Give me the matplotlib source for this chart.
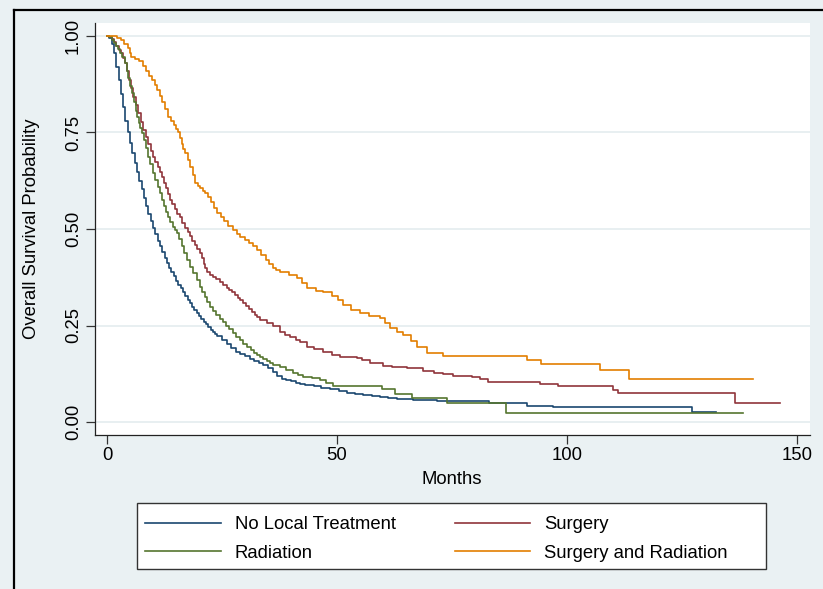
import matplotlib
matplotlib.use("Agg")
import matplotlib.pyplot as plt
from matplotlib.patches import Rectangle
from matplotlib.lines import Line2D

plt.rcParams['font.family'] = ['Liberation Sans', 'DejaVu Sans']

# ---------------- data (Kaplan-Meier step points) ----------------
labels = ["No Local Treatment", "Surgery", "Radiation", "Surgery and Radiation"]
colors = ["#1a476f", "#90353b", "#55752f", "#e37e00"]

t_none = [0, 0.5, 1.0, 1.5, 2.0, 2.5, 3.0, 3.5, 4.0, 4.5, 5.0, 5.5, 6.0, 6.5, 7.0, 7.5, 8.0,
          8.5, 9.0, 9.5, 10.0, 10.5, 11.0, 11.5, 12.0, 12.5, 13.0, 13.5, 14.0, 14.5, 15.0,
          15.5, 16.0, 16.5, 17.0, 17.5, 18.0, 18.5, 19.0, 19.5, 20.0, 20.5, 21.0, 21.5, 22.0,
          22.5, 23.0, 23.5, 24.0, 25.0, 26.0, 27.0, 28.0, 29.0, 30.0, 31.0, 32.0, 33.0, 34.0,
          35.0, 36.0, 37.0, 38.0, 39.0, 40.0, 41.0, 42.0, 43.0, 44.0, 45.0, 46.5, 48.5, 50.4,
          52.2, 54.0, 55.7, 57.5, 59.3, 61.0, 63.0, 66.5, 69.0, 71.7, 83.0, 91.3, 97.0,
          127.2, 132.4]
s_none = [1.0, 0.995, 0.98, 0.955, 0.92, 0.885, 0.85, 0.815, 0.78, 0.75, 0.723, 0.697, 0.672,
          0.648, 0.625, 0.603, 0.581, 0.56, 0.54, 0.521, 0.503, 0.486, 0.47, 0.455, 0.44,
          0.426, 0.412, 0.399, 0.388, 0.377, 0.366, 0.356, 0.347, 0.337, 0.327, 0.317, 0.308,
          0.299, 0.291, 0.283, 0.275, 0.267, 0.26, 0.253, 0.245, 0.238, 0.232, 0.227, 0.222,
          0.213, 0.203, 0.193, 0.182, 0.175, 0.17, 0.164, 0.159, 0.154, 0.147, 0.14, 0.13,
          0.118, 0.112, 0.108, 0.105, 0.102, 0.099, 0.097, 0.095, 0.093, 0.089, 0.085, 0.08,
          0.075, 0.072, 0.07, 0.067, 0.065, 0.062, 0.06, 0.057, 0.056, 0.054, 0.049, 0.042,
          0.038, 0.027, 0.027]

t_surg = [0, 0.5, 1.0, 1.5, 2.0, 2.5, 3.0, 3.5, 3.9, 4.3, 4.8, 5.2, 5.7, 6.2, 6.8, 7.3, 7.9,
          8.4, 9.0, 9.5, 10.0, 10.5, 11.0, 11.5, 11.9, 12.4, 12.8, 13.3, 13.7, 14.2, 14.7,
          15.3, 15.8, 16.4, 17.0, 17.5, 18.0, 18.5, 19.1, 19.6, 20.2, 20.6, 21.0, 21.3, 21.7,
          22.4, 23.1, 23.8, 24.5, 25.2, 26.0, 26.6, 27.2, 27.8, 28.4, 29.0, 29.6, 30.2, 30.9,
          31.5, 32.1, 32.7, 33.3, 34.7, 36.1, 37.6, 38.7, 39.8, 41.0, 42.0, 43.5, 45.0, 47.0,
          49.0, 50.7, 54.3, 55.5, 57.2, 60.0, 62.0, 65.2, 68.7, 71.0, 73.0, 75.2, 79.3, 81.0,
          82.8, 94.1, 98.1, 110.0, 111.1, 136.5, 146.3]
s_surg = [1.0, 0.998, 0.993, 0.985, 0.975, 0.965, 0.955, 0.942, 0.93, 0.91, 0.885, 0.865,
          0.842, 0.822, 0.80, 0.778, 0.756, 0.738, 0.72, 0.703, 0.687, 0.673, 0.66, 0.647,
          0.635, 0.62, 0.605, 0.59, 0.575, 0.565, 0.553, 0.54, 0.53, 0.516, 0.503, 0.492,
          0.481, 0.47, 0.459, 0.448, 0.438, 0.424, 0.41, 0.40, 0.389, 0.382, 0.376, 0.37,
          0.362, 0.355, 0.347, 0.341, 0.336, 0.33, 0.322, 0.315, 0.308, 0.30, 0.292, 0.285,
          0.278, 0.271, 0.264, 0.256, 0.249, 0.233, 0.226, 0.22, 0.213, 0.207, 0.195, 0.19,
          0.181, 0.174, 0.168, 0.166, 0.16, 0.153, 0.145, 0.142, 0.14, 0.132, 0.128, 0.125,
          0.12, 0.116, 0.111, 0.103, 0.098, 0.092, 0.083, 0.074, 0.05, 0.05]

t_rad = [0, 0.5, 1.0, 1.5, 2.0, 2.4, 2.8, 3.3, 3.9, 4.3, 4.6, 5.0, 5.4, 5.8, 6.2, 6.5, 6.9,
         7.2, 7.6, 8.0, 8.4, 8.9, 9.4, 10.0, 10.5, 11.0, 11.5, 11.9, 12.4, 12.8, 13.3, 13.8,
         14.3, 14.8, 15.2, 15.7, 16.3, 16.8, 17.4, 18.1, 18.8, 19.5, 20.2, 20.7, 21.3, 21.8,
         22.4, 23.1, 23.8, 24.5, 25.2, 25.9, 26.6, 27.4, 28.1, 28.9, 29.6, 30.4, 31.2, 32.0,
         32.6, 33.3, 34.0, 34.7, 35.4, 36.1, 37.6, 39.0, 40.4, 41.5, 42.6, 44.5, 46.3, 47.7,
         49.1, 59.8, 62.6, 66.3, 74.0, 86.7, 138.3]
s_rad = [1.0, 0.997, 0.99, 0.983, 0.975, 0.966, 0.956, 0.945, 0.93, 0.91, 0.89, 0.87, 0.852,
         0.83, 0.806, 0.79, 0.775, 0.762, 0.749, 0.73, 0.71, 0.687, 0.668, 0.645, 0.627,
         0.61, 0.592, 0.575, 0.56, 0.545, 0.531, 0.518, 0.505, 0.497, 0.49, 0.473, 0.455,
         0.438, 0.42, 0.402, 0.385, 0.367, 0.35, 0.337, 0.325, 0.311, 0.298, 0.288, 0.278,
         0.268, 0.259, 0.249, 0.24, 0.23, 0.221, 0.212, 0.203, 0.195, 0.187, 0.18, 0.174,
         0.168, 0.163, 0.158, 0.153, 0.148, 0.142, 0.134, 0.127, 0.122, 0.117, 0.113, 0.109,
         0.10, 0.093, 0.085, 0.073, 0.062, 0.049, 0.023, 0.023]

t_both = [0, 2.2, 3.0, 3.8, 4.5, 4.9, 5.2, 6.1, 7.0, 7.8, 8.5, 9.2, 9.8, 10.4, 10.9, 11.5,
          12.0, 12.7, 13.3, 13.9, 14.5, 15.0, 15.4, 15.8, 16.2, 16.6, 17.0, 17.5, 18.0, 18.6,
          19.1, 19.7, 20.2, 20.8, 21.3, 22.0, 22.6, 23.3, 23.9, 24.7, 25.5, 26.4, 27.4, 28.2,
          29.0, 29.9, 30.8, 31.7, 32.6, 33.5, 34.5, 35.2, 36.0, 36.8, 37.6, 39.5, 41.3, 42.4,
          43.5, 45.5, 47.0, 49.0, 50.2, 51.3, 53.0, 55.0, 57.0, 59.3, 60.4, 61.5, 63.0, 64.3,
          66.0, 67.4, 69.6, 73.0, 91.3, 94.3, 107.2, 113.5, 140.4]
s_both = [1.0, 0.995, 0.99, 0.98, 0.97, 0.955, 0.946, 0.94, 0.935, 0.922, 0.91, 0.897, 0.885,
          0.872, 0.86, 0.845, 0.83, 0.81, 0.79, 0.78, 0.77, 0.76, 0.75, 0.735, 0.72, 0.708,
          0.697, 0.678, 0.66, 0.64, 0.62, 0.612, 0.605, 0.599, 0.593, 0.582, 0.57, 0.555,
          0.541, 0.53, 0.52, 0.508, 0.497, 0.488, 0.48, 0.472, 0.465, 0.455, 0.446, 0.433,
          0.42, 0.41, 0.40, 0.394, 0.389, 0.38, 0.373, 0.36, 0.347, 0.34, 0.337, 0.326,
          0.315, 0.303, 0.29, 0.282, 0.275, 0.27, 0.257, 0.244, 0.232, 0.225, 0.21, 0.195,
          0.179, 0.171, 0.161, 0.150, 0.135, 0.111, 0.111]

x_ticks = [0, 50, 100, 150]
x_ticklabels = ["0", "50", "100", "150"]
y_ticks = [0, 0.25, 0.5, 0.75, 1.0]
y_ticklabels = ["0.00", "0.25", "0.50", "0.75", "1.00"]

# ---------------- figure ----------------
W, H = 823, 589
BG = "#eaf1f3"
FS = 13.3
fig = plt.figure(figsize=(W / 100, H / 100), dpi=100, facecolor=BG)

def fx(px):
    return px / W

def fy(py):
    return 1 - py / H

# outer black border (partially visible)
fig.add_artist(Line2D([fx(14), fx(14)], [fy(10), 0], transform=fig.transFigure,
                      color="black", lw=1.6))
fig.add_artist(Line2D([fx(14), 1], [fy(10), fy(10)], transform=fig.transFigure,
                      color="black", lw=1.6))

ax = fig.add_axes([fx(95), fy(435), fx(810) - fx(95), fy(23) - fy(435)])
ax.set_facecolor("white")

series = [(t_none, s_none), (t_surg, s_surg), (t_rad, s_rad), (t_both, s_both)]
handles = []
for (t, s), lab, c in zip(series, labels, colors):
    h, = ax.plot(t, s, drawstyle="steps-post", color=c, lw=1.2, label=lab)
    handles.append(h)

# axis scales from pixel mapping: x=0 -> 107px, 4.6px/month; y=1 -> 36px, y=0 -> 422px
ax.set_xlim((95 - 107) / 4.6, (810 - 107) / 4.6)
ax.set_ylim((422 - 435) / 386, (422 - 23) / 386)

ax.set_xticks(x_ticks)
ax.set_xticklabels(x_ticklabels, fontsize=FS)
ax.set_yticks(y_ticks)
ax.set_yticklabels(y_ticklabels, fontsize=FS, rotation=90, va="center")
ax.tick_params(axis="both", direction="out", length=6.5, width=0.9, color="#333333")
ax.tick_params(axis="x", pad=2)
ax.tick_params(axis="y", pad=3)

ax.yaxis.grid(True, color="#e6eef0", lw=1.3)
ax.xaxis.grid(False)
ax.set_axisbelow(True)

for side in ["top", "right"]:
    ax.spines[side].set_visible(False)
for side in ["left", "bottom"]:
    ax.spines[side].set_color("#222222")
    ax.spines[side].set_linewidth(0.9)

fig.text(fx(452), fy(480), "Months", ha="center", va="center", fontsize=FS)
fig.text(fx(32), fy(229), "Overall Survival Probability", ha="center", va="center",
         rotation=90, fontsize=FS)

# legend box
fig.add_artist(Rectangle((fx(137), fy(569)), fx(766) - fx(137), fy(503) - fy(569),
                         transform=fig.transFigure, facecolor="white",
                         edgecolor="#333333", lw=1.0, zorder=1))
order = [0, 2, 1, 3]
leg = fig.legend([handles[i] for i in order], [labels[i] for i in order], ncol=2,
                 loc="center left", bbox_to_anchor=(fx(145), fy(539)),
                 bbox_transform=fig.transFigure, frameon=False, fontsize=FS,
                 handlelength=4.1, handletextpad=0.75, columnspacing=3.2,
                 labelspacing=0.6, borderpad=0, borderaxespad=0)
leg.set_zorder(2)

fig.savefig("out.png", dpi=100, facecolor=BG)
